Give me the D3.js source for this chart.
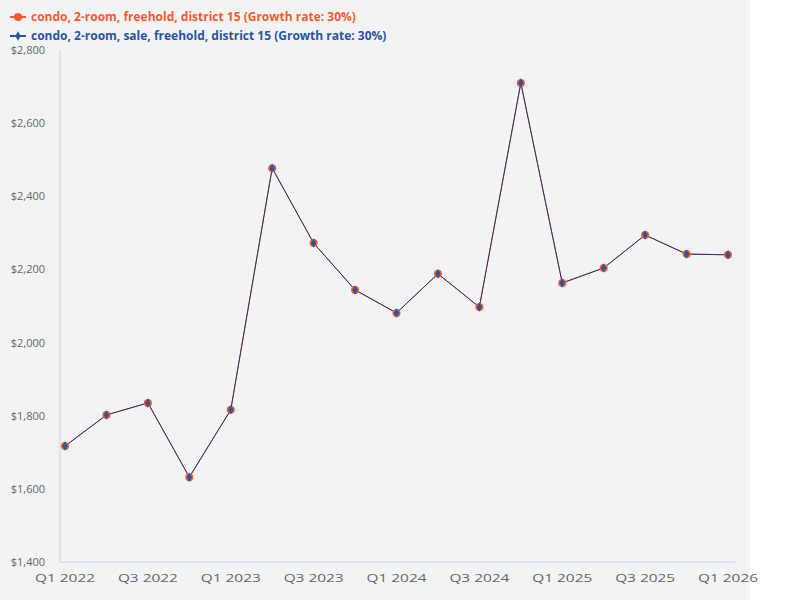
<!DOCTYPE html>
<html><head><meta charset="utf-8">
<script src="https://cdn.jsdelivr.net/npm/d3@7"></script>
<style>body{margin:0;background:#fff}text{font-family:"Open Sans",sans-serif}</style>
</head><body>
<script>
const quarters = ['Q1 2022','Q2 2022','Q3 2022','Q4 2022','Q1 2023','Q2 2023','Q3 2023','Q4 2023','Q1 2024','Q2 2024','Q3 2024','Q4 2024','Q1 2025','Q2 2025','Q3 2025','Q4 2025','Q1 2026'];
const freeholdValues = [1717,1802,1835,1632,1816,2477,2272,2144,2081,2188,2097,2710,2163,2204,2294,2242,2240];
const saleValues = [1717,1802,1835,1632,1816,2477,2272,2144,2081,2188,2097,2710,2163,2204,2294,2242,2240];
const yTicks = [1400,1600,1800,2000,2200,2400,2600,2800];
const legendLabels = ['condo, 2-room, freehold, district 15 (Growth rate: 30%)','condo, 2-room, sale, freehold, district 15 (Growth rate: 30%)'];

const svg = d3.select('body').append('svg').attr('width',800).attr('height',600);
svg.append('rect').attr('width',750).attr('height',600).attr('fill','#f2f3f5');

const x = d3.scaleLinear().domain([0, quarters.length-1]).range([65,728]);
const y = d3.scaleLinear().domain([1400,2800]).range([562,50]);

// axes
svg.append('line').attr('x1',60).attr('x2',60).attr('y1',50).attr('y2',562).attr('stroke','#c9d5ea');
svg.append('line').attr('x1',60).attr('x2',735).attr('y1',562).attr('y2',562).attr('stroke','#c9d5ea');
svg.selectAll('.yt').data(yTicks).enter().append('text')
  .attr('x',45).attr('y',d=>y(d)+4).attr('text-anchor','end')
  .attr('font-size',11).attr('fill','#666').text(d=>'$'+d3.format(',')(d));
svg.selectAll('.xt').data(quarters.filter((q,i)=>i%2===0)).enter().append('text')
  .attr('x',(d,i)=>x(i*2)).attr('y',582).attr('text-anchor','middle')
  .attr('font-size',11).attr('fill','#666').attr('textLength',60).attr('lengthAdjust','spacingAndGlyphs').text(d=>d);

// series
const line = d3.line().x((d,i)=>x(i)).y(d=>y(d));
svg.append('path').datum(freeholdValues).attr('d',line).attr('fill','none').attr('stroke','#fc5a2a').attr('stroke-width',1);
svg.append('path').datum(saleValues).attr('d',line).attr('fill','none').attr('stroke','#2b2f6e').attr('stroke-width',1);
svg.selectAll('.c').data(freeholdValues).enter().append('circle')
  .attr('cx',(d,i)=>x(i)).attr('cy',d=>y(d)).attr('r',4).attr('fill','#fc5a2a');
const diamond = d3.symbol().type(d3.symbolDiamond).size(26);
svg.selectAll('.dm').data(saleValues).enter().append('path').attr('d',diamond)
  .attr('transform',(d,i)=>'translate('+x(i)+','+y(d)+')').attr('fill','#2a55a2');

// legend
const colors = ['#fc5a2a','#2a55a2'];
legendLabels.forEach((t,i)=>{
  const ly = 17 + i*19;
  svg.append('line').attr('x1',10).attr('x2',26).attr('y1',ly).attr('y2',ly).attr('stroke',colors[i]).attr('stroke-width',2);
  if(i===0) svg.append('circle').attr('cx',18).attr('cy',ly).attr('r',4).attr('fill',colors[i]);
  else svg.append('path').attr('d',diamond).attr('transform','translate(18,'+ly+')').attr('fill',colors[i]);
  svg.append('text').attr('x',31).attr('y',ly+4).attr('font-size',12).attr('font-weight','bold').attr('fill',colors[i]).text(t);
});
</script>
</body></html>
